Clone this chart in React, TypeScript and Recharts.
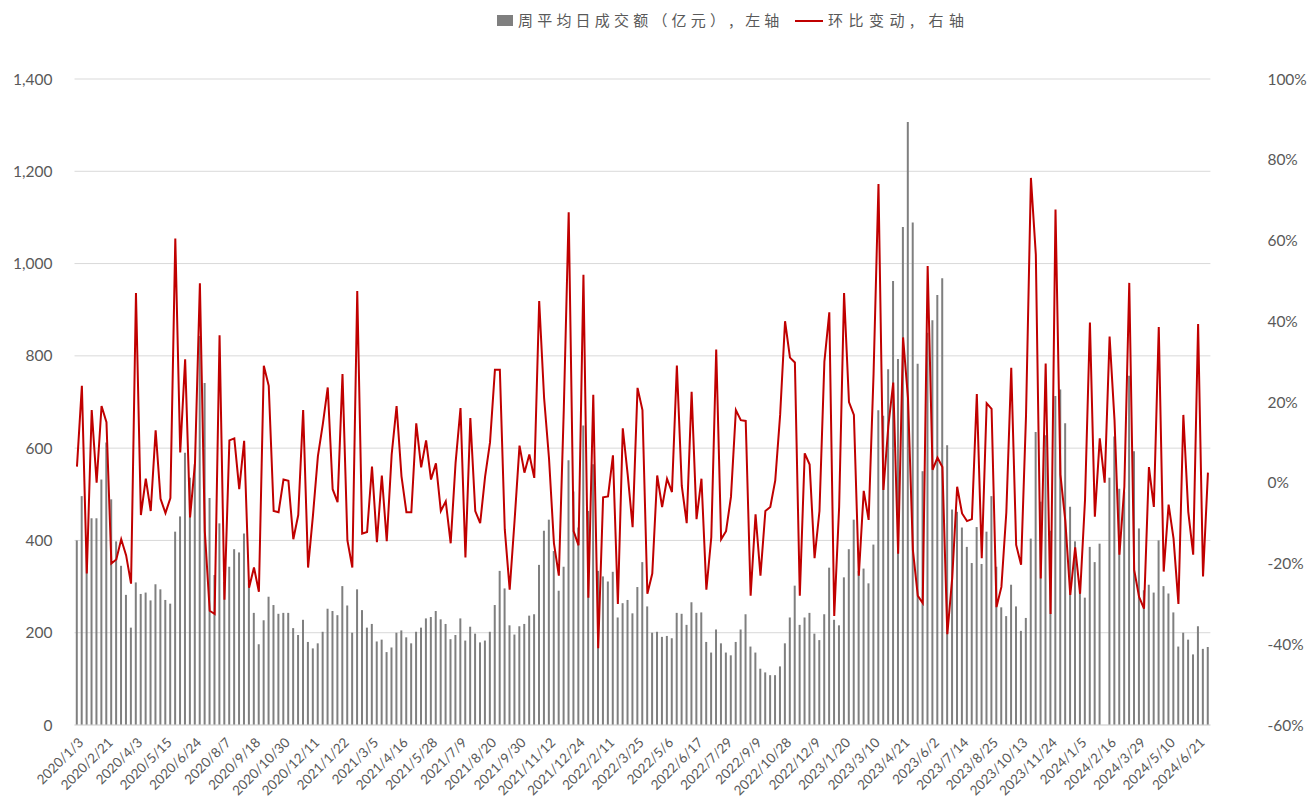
import React from 'react'
import { ComposedChart, Bar, Line, XAxis, YAxis, CartesianGrid } from 'recharts'

const tickLabels = [
  '2020/1/3', '2020/2/21', '2020/4/3', '2020/5/15', '2020/6/24', '2020/8/7', '2020/9/18',
  '2020/10/30', '2020/12/11', '2021/1/22', '2021/3/5', '2021/4/16', '2021/5/28', '2021/7/9',
  '2021/8/20', '2021/9/30', '2021/11/12', '2021/12/24', '2022/2/11', '2022/3/25', '2022/5/6',
  '2022/6/17', '2022/7/29', '2022/9/9', '2022/10/28', '2022/12/9', '2023/1/20', '2023/3/10',
  '2023/4/21', '2023/6/2', '2023/7/14', '2023/8/25', '2023/10/13', '2023/11/24', '2024/1/5',
  '2024/2/16', '2024/3/29', '2024/5/10', '2024/6/21',
]

// 周平均日成交额（亿元）
const turnover: (number | null)[] = [
  400, 496, 379, 448, 448, 532, 612, 489, 398, 345,
  282, 211, 309, 284, 287, 270, 305, 294, 271, 263,
  419, 452, 590, 536, 565, 843, 741, 492, 325, 437,
  310, 343, 381, 374, 415, 307, 243, 175, 227, 278,
  260, 241, 243, 243, 210, 195, 228, 180, 166, 177,
  202, 252, 247, 238, 301, 259, 200, 294, 249, 211,
  219, 181, 185, 158, 168, 200, 205, 190, 177, 202,
  211, 231, 234, 247, 229, 219, 186, 195, 231, 183,
  213, 198, 179, 183, 202, 260, 334, 296, 216, 196,
  214, 219, 237, 240, 347, 421, 445, 377, 291, 343,
  574, 506, 428, 649, 464, 565, 334, 322, 311, 332,
  233, 264, 271, 242, 299, 353, 257, 200, 202, 191,
  193, 188, 243, 241, 217, 266, 243, 244, 180, 157,
  207, 177, 157, 151, 180, 207, 240, 170, 157, 122,
  114, 108, 108, 127, 177, 233, 302, 217, 233, 243,
  198, 184, 240, 341, 228, 216, 320, 381, 445, 334,
  339, 307, 391, 682, 670, 771, 962, 793, 1079, 1307,
  1089, 783, 550, 850, 877, 932, 968, 606, 467, 462,
  428, 386, 351, 429, 349, 419, 496, 343, 255, 236,
  304, 257, 204, 232, 404, 635, 484, 628, 421, 713,
  727, 654, 473, 398, 290, 276, 386, 353, 393, null,
  536, 625, 512, 506, 757, 593, 426, 292, 304, 287,
  400, 301, 285, 244, 170, 200, 185, 153, 214, 165,
  169,
]

// 环比变动（%）
const change = [
  4, 24, -22.5, 18, 0, 19, 15, -20, -19, -14,
  -18, -25, 47, -8, 1, -7, 13, -4, -7.5, -3.8,
  60.5, 7.5, 30.6, -8.6, 4.8, 49.4, -12, -31.7, -32.5, 36.5,
  -29, 10.5, 11, -1.6, 10.4, -26, -21, -27, 29, 24,
  -7, -7.3, 0.8, 0.5, -14, -8, 18, -21, -8, 6.6,
  14.5, 23.6, -1.6, -4.8, 26.9, -14.3, -21, 47.5, -12.6, -12.2,
  4, -14.7, 1.8, -14.5, 7, 19, 1.6, -7.3, -7.3, 14.7,
  3.8, 10.5, 0.8, 4.8, -7, -4.6, -15, 5, 18.5, -18.5,
  16, -7, -10, 1.5, 10, 28, 28, -11.5, -26.5, -9.3,
  9.2, 2.5, 7, 1.2, 45, 21, 6, -15, -23, 18,
  67, -12, -15.5, 51.5, -28.5, 21.8, -41, -3.6, -3.4, 6.8,
  -30, 13.5, 2, -11, 23.5, 18, -27.5, -22.5, 1.8, -6,
  1, -2.3, 29, -0.8, -10, 22.5, -9, 1, -26.5, -13.5,
  33, -14, -12, -3.5, 18, 15.5, 15.3, -28, -7.8, -23,
  -7, -6, 0.5, 16.8, 40, 31, 29.8, -28, 7.3, 4.5,
  -18.7, -7, 30, 42.2, -33, -6, 47, 20, 16.8, -23,
  -2, -9.2, 27, 74, -1.8, 14, 24.8, -17.6, 36, 21,
  -16.7, -28, -29.8, 53.7, 3.2, 6.2, 3.9, -37.5, -23.5, -1,
  -7.6, -9.5, -9, 22, -18.7, 19.7, 18.3, -30.8, -25.8, -7.3,
  28.5, -15.4, -20.3, 16.5, 75.5, 56.5, -23.7, 29.5, -32.5, 67.7,
  2, -9.5, -27.8, -16, -27.5, -4.3, 39.7, -8.4, 11, 0,
  36.2, 15.5, -17.8, -1, 49.5, -21.6, -28.3, -31.2, 3.9, -6,
  38.6, -22, -5.4, -13.8, -30, 16.8, -7.2, -17.8, 39.3, -23.2,
  2.5,
]

const leftTicks = [0, 200, 400, 600, 800, 1000, 1200, 1400]
const rightTicks = [-60, -40, -20, 0, 20, 40, 60, 80, 100]

const data = turnover.map((v, i) => ({ idx: i, turnover: v, change: change[i] }))

const axisFont = 'Lato, "Noto Sans CJK SC", sans-serif'
const textColor = '#595959'

const DateTick = (props: any) => {
  const { x, y, payload } = props
  const label = tickLabels[Math.round(payload.value / 6)]
  return (
    <g transform={`translate(${x + 4},${y + 7})`}>
      <text
        transform="rotate(-45)"
        textAnchor="end"
        dy="0.35em"
        fontSize={13.5}
        fill={textColor}
        fontFamily={axisFont}
      >
        {label}
      </text>
    </g>
  )
}

const legendText: React.CSSProperties = {
  position: 'absolute',
  top: 10,
  fontFamily: '"Noto Sans CJK SC", sans-serif',
  fontSize: 15,
  lineHeight: '20px',
  color: textColor,
  whiteSpace: 'nowrap',
}

const Legend = () => (
  <>
    <div style={{ position: 'absolute', left: 497, top: 15, width: 16, height: 11, background: '#7F7F7F' }} />
    <div style={{ ...legendText, left: 518, letterSpacing: 4.2 }}>周平均日成交额（亿元）, 左轴</div>
    <div style={{ position: 'absolute', left: 795, top: 19.5, width: 28, height: 2, background: '#C00000' }} />
    <div style={{ ...legendText, left: 828, letterSpacing: 5.5 }}>环比变动, 右轴</div>
  </>
)

const App = () => {
  return (
    <div style={{ position: 'absolute', left: 0, top: 0, width: 1309, height: 811, background: '#fff' }}>
      <ComposedChart
        width={1309}
        height={811}
        data={data}
        margin={{ top: 79, right: 0, bottom: 0, left: 0 }}
        barCategoryGap="26%"
      >
        <CartesianGrid yAxisId="left" vertical={false} stroke="#D9D9D9" strokeWidth={1} />
        <XAxis
          dataKey="idx"
          type="category"
          interval={5}
          height={86}
          tickLine={false}
          axisLine={{ stroke: '#D9D9D9' }}
          tick={<DateTick />}
        />
        <YAxis
          yAxisId="left"
          orientation="left"
          width={74.5}
          domain={[0, 1400]}
          ticks={leftTicks}
          interval={0}
          axisLine={false}
          tickLine={false}
          tickSize={0}
          tickMargin={22}
          tick={{ fontSize: 15.5, fill: textColor, fontFamily: axisFont }}
          tickFormatter={(v: number) => v.toLocaleString('en-US')}
        />
        <YAxis
          yAxisId="right"
          orientation="right"
          width={98.6}
          domain={[-60, 100]}
          ticks={rightTicks}
          interval={0}
          axisLine={false}
          tickLine={false}
          tickSize={0}
          tickMargin={57}
          tick={{ fontSize: 15.5, fill: textColor, fontFamily: axisFont, textAnchor: 'start' }}
          tickFormatter={(v: number) => `${v}%`}
        />
        <Bar yAxisId="left" dataKey="turnover" fill="#7F7F7F" isAnimationActive={false} />
        <Line
          yAxisId="right"
          dataKey="change"
          type="linear"
          stroke="#C00000"
          strokeWidth={2}
          dot={false}
          activeDot={false}
          isAnimationActive={false}
        />
      </ComposedChart>
      <Legend />
    </div>
  )
}

export default App
